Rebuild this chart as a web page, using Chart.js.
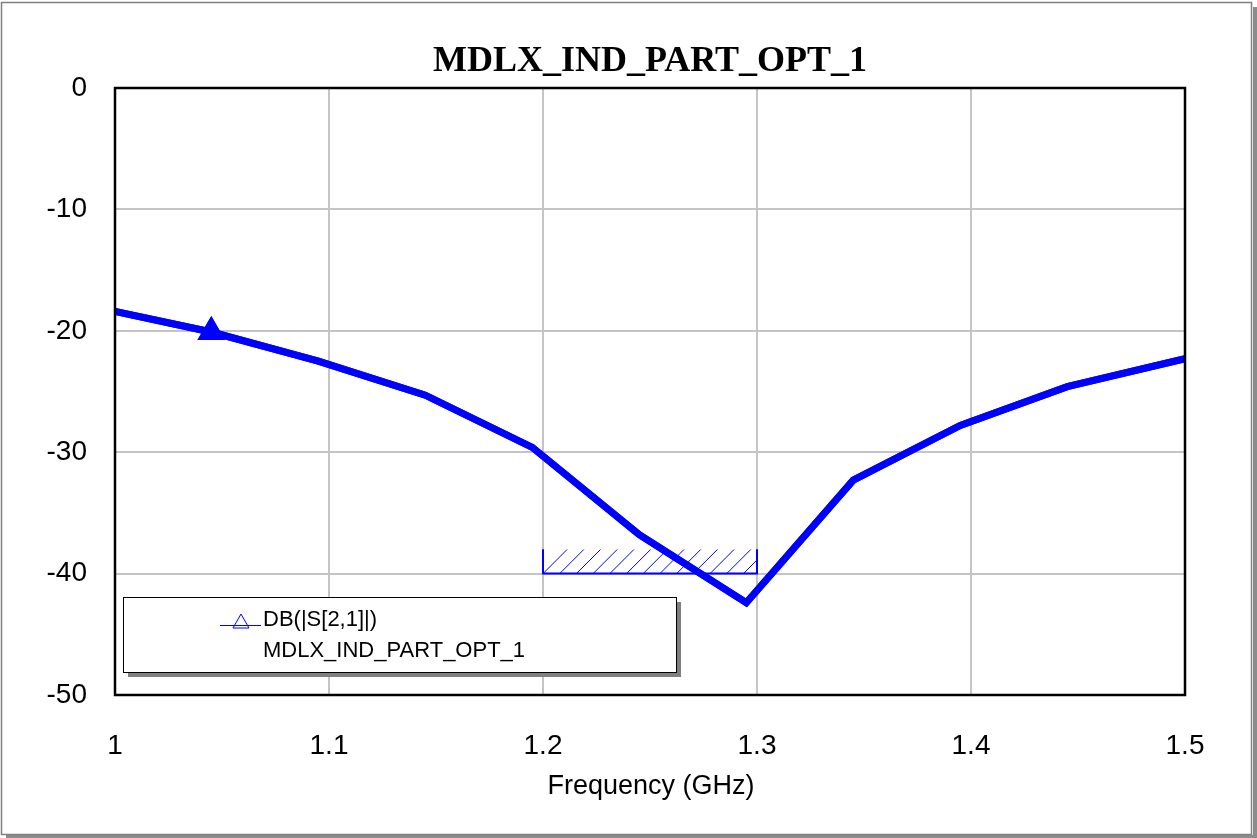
<!DOCTYPE html>
<html>
<head>
<meta charset="utf-8">
<script src="https://cdn.jsdelivr.net/npm/chart.js@4/dist/chart.umd.min.js"></script>
<style>
  html, body { margin: 0; padding: 0; background: #fff; }
  canvas { display: block; }
</style>
</head>
<body>
<canvas id="chart" width="1257" height="838"></canvas>
<script>
// data
const freqGHz = [1.0, 1.045, 1.095, 1.145, 1.195, 1.245, 1.295, 1.345, 1.395, 1.445, 1.5];
const s21dB   = [-18.4, -20.1, -22.5, -25.3, -29.6, -36.8, -42.4, -32.3, -27.8, -24.6, -22.3];
const markerIndex = 1;
const goalFreq = [1.2, 1.3];
const goalDB = [-40, -38];
const chartTitle = 'MDLX_IND_PART_OPT_1';
const xAxisTitle = 'Frequency (GHz)';
const legendLines = ['DB(|S[2,1]|)', 'MDLX_IND_PART_OPT_1'];

const BLUE = '#0000ff';

const framePlugin = {
    id: 'frame',
    beforeDraw(chart) {
        const ctx = chart.ctx;
        ctx.save();
        ctx.fillStyle = '#fff';
        ctx.fillRect(0, 0, chart.width, chart.height);
        // outer frame + shadow
        ctx.fillStyle = '#8c8c8c';
        ctx.fillRect(1253, 7, 4, 831);
        ctx.fillRect(6, 835, 1251, 3);
        ctx.strokeStyle = '#808080';
        ctx.lineWidth = 1.5;
        ctx.strokeRect(1.5, 2.5, 1250, 832);
        ctx.restore();
    },
    afterDatasetsDraw(chart) {
        const ctx = chart.ctx;
        const xs = chart.scales.x, ys = chart.scales.y;
        const area = chart.chartArea;
        ctx.save();

        // goal region with hatching
        const gx1 = xs.getPixelForValue(goalFreq[0]);
        const gx2 = xs.getPixelForValue(goalFreq[1]);
        const gyB = ys.getPixelForValue(goalDB[0]);
        const gyT = ys.getPixelForValue(goalDB[1]);
        ctx.save();
        ctx.beginPath();
        ctx.rect(gx1, gyT, gx2 - gx1, gyB - gyT);
        ctx.clip();
        ctx.strokeStyle = BLUE;
        ctx.lineWidth = 1;
        const h = gyB - gyT;
        for (let x = gx1; x < gx2 + h; x += 16.7) {
            ctx.beginPath();
            ctx.moveTo(x, gyB);
            ctx.lineTo(x + h, gyT);
            ctx.stroke();
        }
        ctx.restore();
        ctx.strokeStyle = BLUE;
        ctx.lineWidth = 2;
        ctx.beginPath();
        ctx.moveTo(gx1, gyT);
        ctx.lineTo(gx1, gyB);
        ctx.lineTo(gx2, gyB);
        ctx.lineTo(gx2, gyT);
        ctx.stroke();

        // redraw curve over the goal hatching
        chart.getDatasetMeta(0).controller.draw();

        // plot border
        ctx.strokeStyle = '#000';
        ctx.lineWidth = 2.5;
        ctx.strokeRect(area.left, area.top, area.right - area.left, area.bottom - area.top);

        // legend box
        ctx.fillStyle = '#808080';
        ctx.fillRect(128, 602, 553, 75);
        ctx.fillStyle = '#fff';
        ctx.fillRect(123, 597, 553, 75);
        ctx.strokeStyle = '#000';
        ctx.lineWidth = 1;
        ctx.strokeRect(123.5, 597.5, 553, 75);
        // legend symbol
        ctx.strokeStyle = BLUE;
        ctx.lineWidth = 1;
        ctx.beginPath();
        ctx.moveTo(220, 625.5);
        ctx.lineTo(261, 625.5);
        ctx.stroke();
        ctx.beginPath();
        ctx.moveTo(241, 614);
        ctx.lineTo(233, 628);
        ctx.lineTo(249, 628);
        ctx.closePath();
        ctx.stroke();
        ctx.fillStyle = '#000';
        ctx.font = '22px "Liberation Sans", Arial, sans-serif';
        ctx.textBaseline = 'middle';
        ctx.textAlign = 'left';
        ctx.fillText(legendLines[0], 263, 620);
        ctx.fillText(legendLines[1], 263, 651);

        // title
        ctx.font = 'bold 36px "Liberation Serif", "Times New Roman", serif';
        ctx.textAlign = 'center';
        ctx.textBaseline = 'alphabetic';
        ctx.fillText(chartTitle, 650, 71);

        // x axis title
        ctx.font = '27px "Liberation Sans", Arial, sans-serif';
        ctx.textBaseline = 'middle';
        ctx.fillText(xAxisTitle, 651, 787);
        ctx.restore();
    }
};

new Chart(document.getElementById('chart'), {
    type: 'line',
    data: {
        datasets: [{
            data: freqGHz.map((f, i) => ({ x: f, y: s21dB[i] })),
            borderColor: BLUE,
            backgroundColor: BLUE,
            borderWidth: 7,
            pointStyle: 'triangle',
            pointRadius: freqGHz.map((f, i) => i === markerIndex ? 13 : 0),
            pointBorderWidth: 3,
            pointHoverRadius: 0,
            tension: 0,
            fill: false
        }]
    },
    options: {
        responsive: false,
        animation: false,
        events: [],
        layout: { padding: { left: 0, top: 88, right: 72, bottom: 0 } },
        plugins: {
            legend: { display: false },
            title: { display: false },
            tooltip: { enabled: false }
        },
        scales: {
            x: {
                type: 'linear',
                min: 1,
                max: 1.5,
                afterFit(scale) { scale.height = 143; },
                ticks: {
                    stepSize: 0.1,
                    color: '#000',
                    padding: 34,
                    maxRotation: 0,
                    font: { size: 28, family: '"Liberation Sans", Arial, sans-serif' },
                    callback: v => String(Math.round(v * 10) / 10)
                },
                grid: { color: '#c4c4c4', lineWidth: 2, drawTicks: false },
                border: { display: false }
            },
            y: {
                min: -50,
                max: 0,
                afterFit(scale) { scale.width = 115; },
                ticks: {
                    stepSize: 10,
                    color: '#000',
                    padding: 28,
                    font: { size: 28, family: '"Liberation Sans", Arial, sans-serif' }
                },
                grid: { color: '#c4c4c4', lineWidth: 2, drawTicks: false },
                border: { display: false }
            }
        }
    },
    plugins: [framePlugin]
});
</script>
</body>
</html>
